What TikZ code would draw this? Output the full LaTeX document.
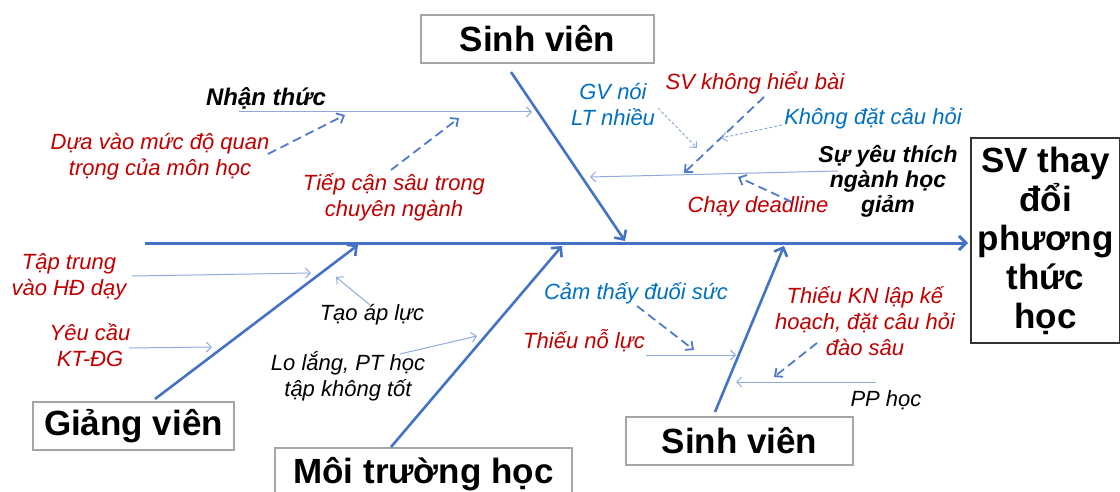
\documentclass[tikz,border=0pt]{standalone}
\usepackage{fontspec}
\setmainfont{Liberation Sans}
\usetikzlibrary{arrows.meta}
\definecolor{spineblue}{HTML}{4472C4}
\definecolor{thinblue}{HTML}{8FAADC}
\definecolor{dashblue}{HTML}{4F7BC8}
\definecolor{causered}{HTML}{C00000}
\definecolor{causeblue}{HTML}{0070C0}
\definecolor{boxgray}{HTML}{A6A6A6}
\begin{document}
\begin{tikzpicture}[x=0.5pt,y=-0.5pt,
  box/.style={draw=boxgray, line width=0.8pt, fill=white, inner sep=0pt, align=center,
    font=\fontsize{17.5}{19.5}\selectfont\bfseries},
  lbl/.style={inner sep=0pt, align=center, font=\fontsize{11}{13}\selectfont\itshape},
  redlbl/.style={lbl, text=causered},
  bluelbl/.style={lbl, text=causeblue},
  blacklbl/.style={lbl, text=black},
  headlbl/.style={inner sep=0pt, align=center, font=\fontsize{11.5}{12.5}\selectfont\bfseries\itshape},
  spine/.style={draw=spineblue, line width=1.5pt, -{Straight Barb[length=3.5pt,width=7pt]}},
  bone/.style={draw=spineblue, line width=1.3pt, -{Straight Barb[length=3.5pt,width=7pt]}},
  twig/.style={draw=thinblue, line width=0.5pt, -{Straight Barb[length=2.5pt,width=5pt]}},
  dashtwig/.style={draw=dashblue, line width=0.9pt, dash pattern=on 4.5pt off 2.5pt,
    -{Straight Barb[length=3pt,width=5.5pt]}},
  dottwig/.style={draw=thinblue, line width=0.5pt, dash pattern=on 1.5pt off 1pt,
    -{Straight Barb[length=2.5pt,width=4.5pt]}}
]
\useasboundingbox (0,0) rectangle (1120,492);

% category boxes and the effect
\node[box, minimum width=116.5pt, minimum height=24pt] (svtop) at (537.5,39) {Sinh viên};
\node[box, draw=black!80, minimum width=74.5pt, minimum height=102.5pt] (effect) at (1045.5,240.5)
  {SV thay\\đổi\\phương\\thức\\học};
\node[box, minimum width=100.5pt, minimum height=24pt] (gv) at (133.5,426) {Giảng viên};
\node[box, minimum width=148.5pt, minimum height=26pt] (mt) at (423.5,474) {Môi trường học};
\node[box, minimum width=113.5pt, minimum height=24pt] (svbot) at (739.5,441) {Sinh viên};

% spine and main bones
\coordinate (s0) at (145,243);
\coordinate (s1) at (968,243);
\draw[spine] (s0) -- (s1);

\coordinate (b1a) at (511,72);   \coordinate (b1b) at (625,241);
\coordinate (b2a) at (155,399);  \coordinate (b2b) at (358,245);
\coordinate (b3a) at (391,447);  \coordinate (b3b) at (562,246);
\coordinate (b4a) at (715,412);  \coordinate (b4b) at (784,246);
\draw[bone] (b1a) -- (b1b);
\draw[bone] (b2a) -- (b2b);
\draw[bone] (b3a) -- (b3b);
\draw[bone] (b4a) -- (b4b);

% upper left: Nhận thức
\node[headlbl, font=\fontsize{12}{13}\selectfont\bfseries\itshape] (nt) at (266,98) {Nhận thức};
\coordinate (nt0) at (239,112); \coordinate (nt1) at (532,112);
\draw[twig] (nt0) -- (nt1);
\node[redlbl] (dva) at (160,157) {Dựa vào mức độ quan\\trọng của môn học};
\coordinate (d1a) at (268,154); \coordinate (d1b) at (345,115);
\draw[dashtwig] (d1a) -- (d1b);
\node[redlbl] (tcs) at (394,197) {Tiếp cận sâu trong\\chuyên ngành};
\coordinate (d2a) at (391,170); \coordinate (d2b) at (459,118);
\draw[dashtwig] (d2a) -- (d2b);

% upper right: Sự yêu thích ngành học giảm
\node[bluelbl] (gvn) at (613,105) {GV nói\\LT nhiều};
\node[redlbl] (svk) at (755,83) {SV không hiểu bài};
\node[bluelbl] (kdc) at (873,118) {Không đặt câu hỏi};
\node[headlbl] (syt) at (888,181) {Sự yêu thích\\ngành học\\giảm};
\node[redlbl] (cdl) at (758,207) {Chạy deadline};
\coordinate (sy0) at (838,171); \coordinate (sy1) at (590,177);
\draw[twig] (sy0) -- (sy1);
\coordinate (d3a) at (764,97); \coordinate (d3b) at (684,173);
\draw[dashtwig] (d3a) -- (d3b);
\coordinate (g1a) at (658,108); \coordinate (g1b) at (697,148);
\draw[dottwig] (g1a) -- (g1b);
\coordinate (k1a) at (782,125); \coordinate (k1b) at (721,138);
\draw[dottwig] (k1a) -- (k1b);
\coordinate (d4a) at (792,202); \coordinate (d4b) at (738,177);
\draw[dashtwig] (d4a) -- (d4b);

% lower left: Giảng viên
\node[redlbl] (ttr) at (69,277) {Tập trung\\vào HĐ dạy};
\coordinate (t1a) at (132,276); \coordinate (t1b) at (311,273);
\draw[twig] (t1a) -- (t1b);
\node[redlbl] (ycu) at (90,345) {Yêu cầu\\KT-ĐG};
\coordinate (t2a) at (129,348); \coordinate (t2b) at (212,347);
\draw[twig] (t2a) -- (t2b);
\node[blacklbl] (tal) at (372,315) {Tạo áp lực};
\coordinate (t3a) at (370,305); \coordinate (t3b) at (336,277);
\draw[twig] (t3a) -- (t3b);

% lower middle: Môi trường học
\node[blacklbl] (llg) at (348,376) {Lo lắng, PT học\\tập không tốt};
\coordinate (t4a) at (400,354); \coordinate (t4b) at (477,336);
\draw[twig] (t4a) -- (t4b);
\node[bluelbl] (cts) at (636,293) {Cảm thấy đuối sức};
\coordinate (d5a) at (637,306); \coordinate (d5b) at (694,350);
\draw[dashtwig] (d5a) -- (d5b);
\node[redlbl] (tnl) at (584,341) {Thiếu nỗ lực};
\coordinate (t5a) at (646,355); \coordinate (t5b) at (736,355);
\draw[twig] (t5a) -- (t5b);

% lower right: Sinh viên
\node[redlbl] (tkn) at (865,321) {Thiếu KN lập kế\\hoạch, đặt câu hỏi\\đào sâu};
\coordinate (d6a) at (817,343); \coordinate (d6b) at (774,377);
\draw[dashtwig] (d6a) -- (d6b);
\coordinate (t6a) at (876,382); \coordinate (t6b) at (736,382);
\draw[twig] (t6a) -- (t6b);
\node[blacklbl] (pph) at (886,400) {PP học};
\end{tikzpicture}
\end{document}
